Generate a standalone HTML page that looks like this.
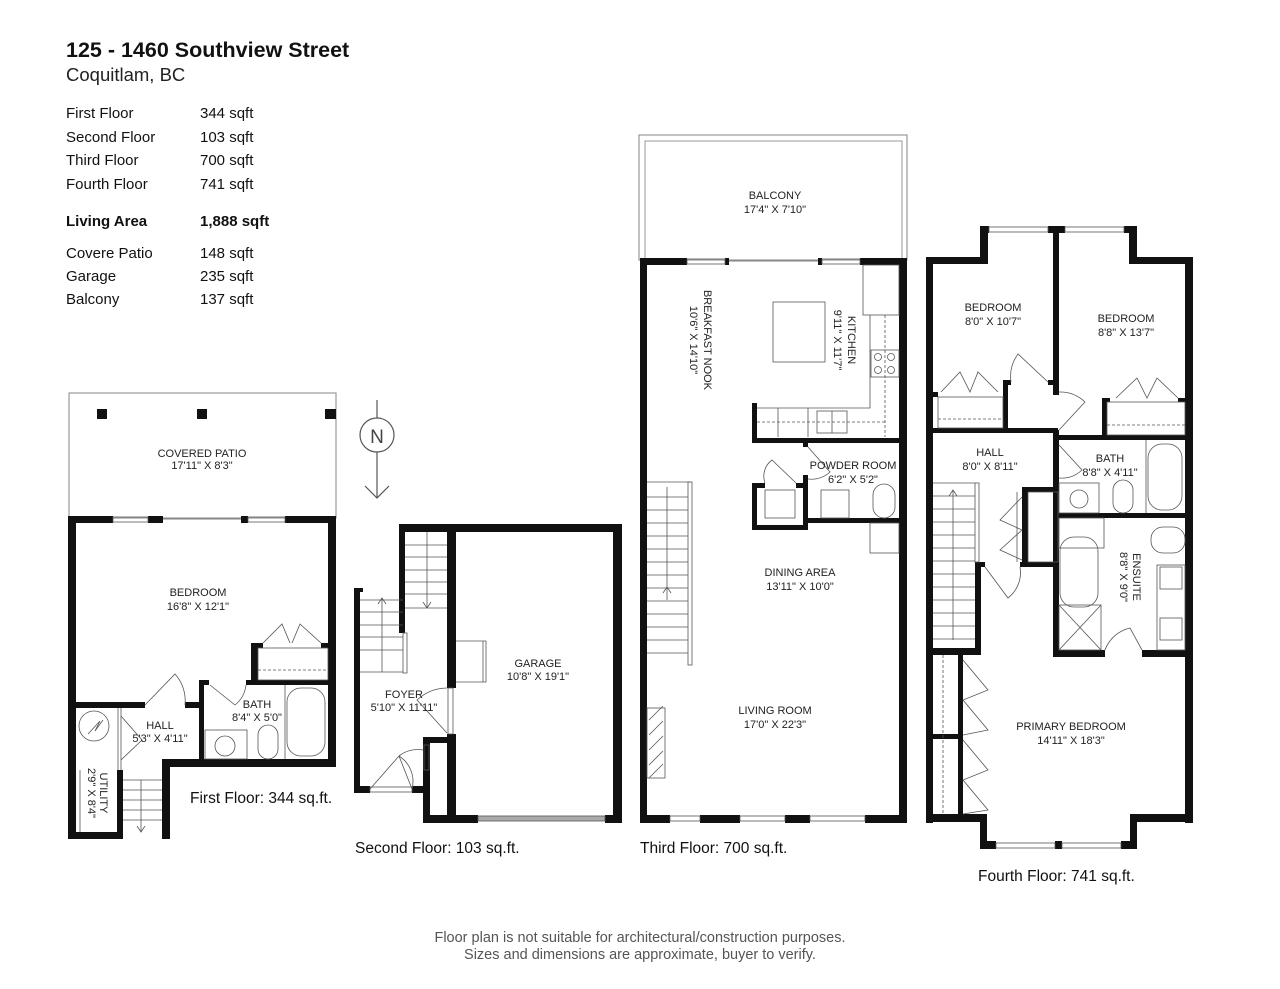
<!DOCTYPE html>
<html><head><meta charset="utf-8"><style>
html,body{margin:0;padding:0;background:#fff;}
svg{display:block;}
text{font-family:"Liberation Sans",sans-serif;}
.r{font-size:11px;fill:#222;text-anchor:middle;}
.fl{font-size:15.5px;fill:#111;}
.h{font-size:15px;fill:#111;}
</style></head><body>
<svg width="1280" height="989" viewBox="0 0 1280 989" xmlns="http://www.w3.org/2000/svg">
<rect width="1280" height="989" fill="#fff"/>
<!-- header -->
<text x="66" y="57" style="font-size:21.5px;font-weight:bold" fill="#111">125 - 1460 Southview Street</text>
<text x="66" y="81" style="font-size:18.5px" fill="#222">Coquitlam, BC</text>
<g class="h">
<text x="66" y="118">First Floor</text><text x="200" y="118">344 sqft</text>
<text x="66" y="142">Second Floor</text><text x="200" y="142">103 sqft</text>
<text x="66" y="165">Third Floor</text><text x="200" y="165">700 sqft</text>
<text x="66" y="189">Fourth Floor</text><text x="200" y="189">741 sqft</text>
<text x="66" y="226" font-weight="bold">Living Area</text><text x="200" y="226" font-weight="bold">1,888 sqft</text>
<text x="66" y="258">Covere Patio</text><text x="200" y="258">148 sqft</text>
<text x="66" y="281">Garage</text><text x="200" y="281">235 sqft</text>
<text x="66" y="304">Balcony</text><text x="200" y="304">137 sqft</text>
</g>

<!-- ===== FIRST FLOOR ===== -->
<rect x="69" y="393" width="267" height="125" fill="none" stroke="#999" stroke-width="1.2"/>
<rect x="97" y="409" width="10" height="10" fill="#111"/>
<rect x="197" y="409" width="10" height="10" fill="#111"/>
<rect x="325" y="409" width="11" height="10" fill="#111"/>
<g fill="#111">
<rect x="68" y="516" width="45" height="7"/>
<rect x="148" y="516" width="15" height="7"/>
<rect x="241" y="516" width="7" height="7"/>
<rect x="285" y="516" width="51" height="7"/>
<rect x="68" y="516" width="8" height="323"/>
<rect x="328" y="516" width="8" height="251"/>
<rect x="68" y="702" width="77" height="6"/>
<rect x="185" y="702" width="19" height="6"/>
<rect x="251" y="643" width="7" height="39"/>
<rect x="251" y="643" width="12" height="5"/>
<rect x="321" y="643" width="15" height="5"/>
<rect x="199" y="680" width="10" height="5"/>
<rect x="246" y="680" width="90" height="5"/>
<rect x="199" y="680" width="5" height="87"/>
<rect x="162" y="759" width="174" height="8"/>
<rect x="162" y="759" width="8" height="80"/>
<rect x="68" y="832" width="55" height="7"/>
<rect x="117" y="770" width="6" height="69"/>
</g>
<g fill="none" stroke="#555" stroke-width="0.8">
<rect x="113" y="517" width="35" height="5"/><rect x="248" y="517" width="37" height="5"/>
<line x1="163" y1="519" x2="241" y2="519"/>
<line x1="118" y1="708" x2="118" y2="770"/><line x1="121" y1="708" x2="121" y2="770"/>
<path d="M145 705 L175 674 A40 40 0 0 1 185 705"/>
<path d="M263 643 L282 624 L290 643 M292 643 L300 624 L321 643"/>
<rect x="258" y="648" width="70" height="32"/><line x1="258" y1="670" x2="328" y2="670" stroke-dasharray="3 2"/>
<path d="M210 685 L235 705 A30 30 0 0 0 246 685"/>
<rect x="287" y="688" width="38" height="68" rx="14"/><line x1="285" y1="685" x2="285" y2="759"/>
<rect x="205" y="730" width="42" height="29"/><circle cx="225" cy="746" r="10"/>
<rect x="258" y="725" width="20" height="34" rx="10"/>
<circle cx="94" cy="726" r="15"/><path d="M88 734 L100 721 L95 731 L103 720"/>
<path d="M121 716 L142 740 L121 760"/>
<line x1="123" y1="780" x2="162" y2="780"/><line x1="123" y1="790" x2="162" y2="790"/><line x1="123" y1="800" x2="162" y2="800"/><line x1="123" y1="810" x2="162" y2="810"/><line x1="123" y1="820" x2="162" y2="820"/>
<line x1="141" y1="780" x2="141" y2="832"/><path d="M137 826 L141 832 L145 826"/>
<line x1="80" y1="770" x2="80" y2="832"/>
</g>
<text class="r" x="202" y="457">COVERED PATIO</text><text class="r" x="202" y="469">17'11" X 8'3"</text>
<text class="r" x="198" y="596">BEDROOM</text><text class="r" x="198" y="610">16'8" X 12'1"</text>
<text class="r" x="257" y="708">BATH</text><text class="r" x="257" y="721">8'4" X 5'0"</text>
<text class="r" x="160" y="729">HALL</text><text class="r" x="160" y="742">5'3" X 4'11"</text>
<text class="r" transform="translate(100,793) rotate(90)">UTILITY</text>
<text class="r" transform="translate(88,793) rotate(90)">2'9" X 8'4"</text>
<text class="fl" x="190" y="803">First Floor: 344 sq.ft.</text>

<!-- compass -->
<g fill="none" stroke="#555" stroke-width="1.2">
<line x1="377" y1="400" x2="377" y2="418"/><circle cx="377" cy="435" r="17"/>
<line x1="377" y1="452" x2="377" y2="498"/><path d="M365 486 L377 498 L389 486"/>
</g>
<text x="377" y="443" text-anchor="middle" style="font-size:19px" fill="#444">N</text>

<!-- ===== SECOND FLOOR ===== -->
<g fill="#111">
<rect x="399" y="524" width="223" height="8"/>
<rect x="399" y="524" width="6" height="109"/>
<rect x="447" y="524" width="9" height="164"/>
<rect x="447" y="734" width="9" height="89"/>
<rect x="613" y="524" width="9" height="299"/>
<rect x="423" y="815" width="55" height="8"/>
<rect x="605" y="815" width="17" height="8"/>
<rect x="354" y="588" width="6" height="205"/>
<rect x="354" y="588" width="9" height="4"/>
<rect x="354" y="786" width="16" height="7"/>
<rect x="412" y="786" width="18" height="7"/>
<rect x="423" y="737" width="7" height="86"/>
<rect x="423" y="737" width="30" height="6"/>
</g>
<g fill="none" stroke="#555" stroke-width="0.8">
<rect x="478" y="816" width="127" height="5" fill="#aaa"/>
<line x1="405" y1="545" x2="447" y2="545"/><line x1="405" y1="557" x2="447" y2="557"/><line x1="405" y1="570" x2="447" y2="570"/><line x1="405" y1="582" x2="447" y2="582"/><line x1="405" y1="594" x2="447" y2="594"/><line x1="405" y1="608" x2="447" y2="608"/>
<line x1="427" y1="532" x2="427" y2="608"/><path d="M423 602 L427 608 L431 602"/>
<line x1="360" y1="600" x2="403" y2="600"/><line x1="360" y1="612" x2="403" y2="612"/><line x1="360" y1="625" x2="403" y2="625"/><line x1="360" y1="637" x2="403" y2="637"/><line x1="360" y1="650" x2="403" y2="650"/><line x1="360" y1="672" x2="403" y2="672"/>
<line x1="382" y1="598" x2="382" y2="672"/><path d="M378 604 L382 598 L386 604"/>
<rect x="403" y="633" width="4" height="40"/>
<path d="M456 641 L486 641 L486 682 L456 682"/><line x1="483" y1="641" x2="483" y2="682"/>
<path d="M447 688 A45 45 0 0 0 417 700 L447 733"/><rect x="448" y="688" width="5" height="46"/>
<path d="M370 789 L399 756 L412 789 M399 756 A30 30 0 0 1 412 789 M399 756 A30 30 0 0 1 423 750"/>
<rect x="370" y="787" width="42" height="5"/>
<rect x="424" y="745" width="5" height="25"/>
</g>
<text class="r" x="404" y="698">FOYER</text><text class="r" x="404" y="711">5'10" X 11'11"</text>
<text class="r" x="538" y="667">GARAGE</text><text class="r" x="538" y="680">10'8" X 19'1"</text>
<text class="fl" x="355" y="853">Second Floor: 103 sq.ft.</text>

<!-- ===== THIRD FLOOR ===== -->
<rect x="639" y="135" width="268" height="125" fill="none" stroke="#999" stroke-width="1.2"/>
<path d="M645 262 L645 141 L902 141 L902 262" fill="none" stroke="#999" stroke-width="1"/>
<g fill="#111">
<rect x="640" y="258" width="47" height="7"/>
<rect x="725" y="258" width="4" height="7"/>
<rect x="818" y="258" width="4" height="7"/>
<rect x="860" y="258" width="47" height="7"/>
<rect x="640" y="258" width="7" height="565"/>
<rect x="899" y="258" width="8" height="565"/>
<rect x="640" y="815" width="30" height="8"/>
<rect x="700" y="815" width="40" height="8"/>
<rect x="785" y="815" width="25" height="8"/>
<rect x="865" y="815" width="42" height="8"/>
<rect x="752" y="403" width="5" height="40"/>
<rect x="752" y="438" width="155" height="5"/>
<rect x="803" y="438" width="5" height="9"/>
<rect x="752" y="483" width="5" height="47"/>
<rect x="752" y="483" width="13" height="5"/>
<rect x="796" y="483" width="12" height="5"/>
<rect x="803" y="475" width="5" height="55"/>
<rect x="752" y="525" width="56" height="5"/>
<rect x="803" y="518" width="104" height="5"/>
</g>
<g fill="none" stroke="#555" stroke-width="0.8">
<rect x="687" y="259" width="38" height="5"/><rect x="822" y="259" width="38" height="5"/>
<line x1="729" y1="261" x2="818" y2="261"/>
<rect x="863" y="265" width="36" height="50"/>
<path d="M870 315 L870 408 L757 408"/><line x1="885" y1="315" x2="885" y2="437" stroke-dasharray="3 2"/>
<line x1="757" y1="422" x2="885" y2="422" stroke-dasharray="3 2"/>
<rect x="773" y="302" width="52" height="60"/>
<rect x="871" y="350" width="28" height="27"/><circle cx="878" cy="357" r="3.5"/><circle cx="891" cy="357" r="3.5"/><circle cx="878" cy="370" r="3.5"/><circle cx="891" cy="370" r="3.5"/>
<rect x="817" y="411" width="30" height="22"/><line x1="832" y1="411" x2="832" y2="433"/>
<line x1="778" y1="408" x2="778" y2="437"/><line x1="808" y1="408" x2="808" y2="437"/>
<rect x="765" y="490" width="30" height="28"/>
<path d="M765 483 A20 20 0 0 1 772 460 L796 483"/>
<path d="M808 447 L830 472 A28 28 0 0 1 808 479"/>
<rect x="821" y="490" width="28" height="28"/><rect x="873" y="484" width="22" height="34" rx="11"/>
<rect x="870" y="523" width="29" height="30"/>
<line x1="647" y1="482" x2="690" y2="482"/>
<line x1="647" y1="497" x2="688" y2="497"/><line x1="647" y1="510" x2="688" y2="510"/><line x1="647" y1="523" x2="688" y2="523"/><line x1="647" y1="536" x2="688" y2="536"/><line x1="647" y1="549" x2="688" y2="549"/><line x1="647" y1="562" x2="688" y2="562"/><line x1="647" y1="575" x2="688" y2="575"/><line x1="647" y1="588" x2="688" y2="588"/><line x1="647" y1="601" x2="688" y2="601"/><line x1="647" y1="614" x2="688" y2="614"/><line x1="647" y1="627" x2="688" y2="627"/><line x1="647" y1="640" x2="688" y2="640"/><line x1="647" y1="653" x2="688" y2="653"/>
<line x1="667" y1="487" x2="667" y2="600"/><path d="M663 593 L667 587 L671 593"/>
<rect x="688" y="482" width="4" height="183"/>
<rect x="647" y="708" width="18" height="70"/>
<path d="M649 720 L663 706 M649 735 L663 721 M649 750 L663 736 M649 765 L663 751 M649 778 L663 764"/>
<rect x="670" y="816" width="30" height="5"/><rect x="740" y="816" width="45" height="5"/><rect x="810" y="816" width="55" height="5"/>
</g>
<text class="r" x="775" y="199">BALCONY</text><text class="r" x="775" y="213">17'4" X 7'10"</text>
<text class="r" transform="translate(704,340) rotate(90)">BREAKFAST NOOK</text>
<text class="r" transform="translate(690,340) rotate(90)">10'6" X 14'10"</text>
<text class="r" transform="translate(848,340) rotate(90)">KITCHEN</text>
<text class="r" transform="translate(834,340) rotate(90)">9'11" X 11'7"</text>
<text class="r" x="853" y="469">POWDER ROOM</text><text class="r" x="853" y="483">6'2" X 5'2"</text>
<text class="r" x="800" y="576">DINING AREA</text><text class="r" x="800" y="590">13'11" X 10'0"</text>
<text class="r" x="775" y="714">LIVING ROOM</text><text class="r" x="775" y="728">17'0" X 22'3"</text>
<text class="fl" x="640" y="853">Third Floor: 700 sq.ft.</text>

<!-- ===== FOURTH FLOOR ===== -->
<g fill="#111">
<rect x="926" y="257" width="62" height="7"/>
<rect x="980" y="226" width="8" height="38"/>
<rect x="980" y="226" width="9" height="7"/>
<rect x="1048" y="226" width="17" height="7"/>
<rect x="1124" y="226" width="13" height="7"/>
<rect x="1129" y="226" width="8" height="38"/>
<rect x="1129" y="257" width="64" height="7"/>
<rect x="926" y="257" width="7" height="566"/>
<rect x="1185" y="257" width="8" height="566"/>
<rect x="1053" y="226" width="6" height="166"/>
<rect x="1053" y="430" width="6" height="227"/>
<rect x="1053" y="390" width="6" height="5"/>
<rect x="933" y="392" width="5" height="5"/>
<rect x="1003" y="382" width="5" height="50"/>
<rect x="1003" y="380" width="8" height="5"/>
<rect x="1048" y="380" width="10" height="5"/>
<rect x="933" y="428" width="125" height="5"/>
<rect x="1102" y="398" width="5" height="42"/>
<rect x="1102" y="398" width="8" height="4"/>
<rect x="1178" y="398" width="7" height="4"/>
<rect x="1053" y="435" width="140" height="5"/>
<rect x="1053" y="513" width="140" height="5"/>
<rect x="1022" y="487" width="36" height="5"/>
<rect x="1022" y="487" width="6" height="80"/>
<rect x="975" y="562" width="10" height="5"/>
<rect x="1020" y="562" width="38" height="5"/>
<rect x="975" y="562" width="6" height="93"/>
<rect x="926" y="648" width="55" height="7"/>
<rect x="1053" y="650" width="52" height="7"/>
<rect x="1142" y="650" width="51" height="7"/>
<rect x="958" y="655" width="5" height="160"/>
<rect x="933" y="734" width="30" height="5"/>
<rect x="926" y="814" width="61" height="8"/>
<rect x="980" y="814" width="7" height="35"/>
<rect x="980" y="841" width="16" height="8"/>
<rect x="1055" y="841" width="7" height="8"/>
<rect x="1121" y="841" width="16" height="8"/>
<rect x="1130" y="814" width="7" height="35"/>
<rect x="1130" y="814" width="63" height="8"/>
</g>
<g fill="none" stroke="#555" stroke-width="0.8">
<rect x="989" y="227" width="59" height="5"/><rect x="1065" y="227" width="59" height="5"/>
<rect x="996" y="843" width="59" height="5"/><rect x="1062" y="843" width="59" height="5"/>
<rect x="938" y="397" width="65" height="31"/><line x1="938" y1="419" x2="1003" y2="419" stroke-dasharray="3 2"/>
<path d="M941 392 L960 372 L970 392 L978 372 L998 392"/>
<path d="M1011 382 A38 38 0 0 1 1018 354 L1048 382"/>
<rect x="1107" y="402" width="78" height="33"/><line x1="1107" y1="425" x2="1185" y2="425" stroke-dasharray="3 2"/>
<path d="M1116 398 L1137 378 L1147 398 L1157 378 L1178 398"/>
<path d="M1059 392 A36 36 0 0 1 1085 402 L1059 430"/>
<path d="M1059 445 L1082 470 A30 30 0 0 1 1059 478"/>
<rect x="1148" y="444" width="34" height="66" rx="14"/><line x1="1146" y1="440" x2="1146" y2="513"/>
<rect x="1059" y="483" width="40" height="30"/><circle cx="1079" cy="499" r="9"/>
<rect x="1113" y="480" width="20" height="33" rx="10"/>
<rect x="1059" y="518" width="45" height="30"/>
<rect x="1060" y="537" width="38" height="70" rx="14"/>
<rect x="1059" y="605" width="42" height="45"/><path d="M1059 605 L1101 650 M1101 605 L1059 650"/>
<path d="M1105 650 A35 35 0 0 1 1130 628 L1142 650"/>
<rect x="1151" y="527" width="34" height="26" rx="12"/>
<rect x="1157" y="565" width="28" height="85"/><rect x="1160" y="567" width="22" height="22"/><rect x="1160" y="618" width="22" height="22"/>
<line x1="933" y1="483" x2="975" y2="483"/>
<line x1="933" y1="496" x2="975" y2="496"/><line x1="933" y1="509" x2="975" y2="509"/><line x1="933" y1="522" x2="975" y2="522"/><line x1="933" y1="535" x2="975" y2="535"/><line x1="933" y1="548" x2="975" y2="548"/><line x1="933" y1="561" x2="975" y2="561"/><line x1="933" y1="574" x2="975" y2="574"/><line x1="933" y1="587" x2="975" y2="587"/><line x1="933" y1="600" x2="975" y2="600"/><line x1="933" y1="613" x2="975" y2="613"/><line x1="933" y1="626" x2="975" y2="626"/><line x1="933" y1="639" x2="975" y2="639"/>
<line x1="953" y1="490" x2="953" y2="640"/><path d="M949 496 L953 490 L957 496"/>
<rect x="975" y="483" width="4" height="79"/>
<rect x="1028" y="492" width="30" height="70"/><line x1="1017" y1="492" x2="1017" y2="562"/>
<path d="M1022 497 L1000 520 L1022 530 L1000 550 L1022 560"/>
<path d="M985 567 L1008 598 A32 32 0 0 0 1020 567"/>
<line x1="943" y1="655" x2="943" y2="815" stroke-dasharray="3 2"/>
<path d="M963 660 L988 690 L963 700 L988 730 L963 735 M963 740 L988 770 L963 780 L988 810 L963 814"/>
</g>
<text class="r" x="993" y="311">BEDROOM</text><text class="r" x="993" y="325">8'0" X 10'7"</text>
<text class="r" x="1126" y="322">BEDROOM</text><text class="r" x="1126" y="336">8'8" X 13'7"</text>
<text class="r" x="990" y="456">HALL</text><text class="r" x="990" y="470">8'0" X 8'11"</text>
<text class="r" x="1110" y="462">BATH</text><text class="r" x="1110" y="476">8'8" X 4'11"</text>
<text class="r" transform="translate(1133,577) rotate(90)">ENSUITE</text>
<text class="r" transform="translate(1120,577) rotate(90)">8'8" X 9'0"</text>
<text class="r" x="1071" y="730">PRIMARY BEDROOM</text><text class="r" x="1071" y="744">14'11" X 18'3"</text>
<text class="fl" x="978" y="881">Fourth Floor: 741 sq.ft.</text>

<!-- footer -->
<text x="640" y="942" text-anchor="middle" style="font-size:14.5px" fill="#555">Floor plan is not suitable for architectural/construction purposes.</text>
<text x="640" y="959" text-anchor="middle" style="font-size:14.5px" fill="#555">Sizes and dimensions are approximate, buyer to verify.</text>
</svg>
</body></html>
